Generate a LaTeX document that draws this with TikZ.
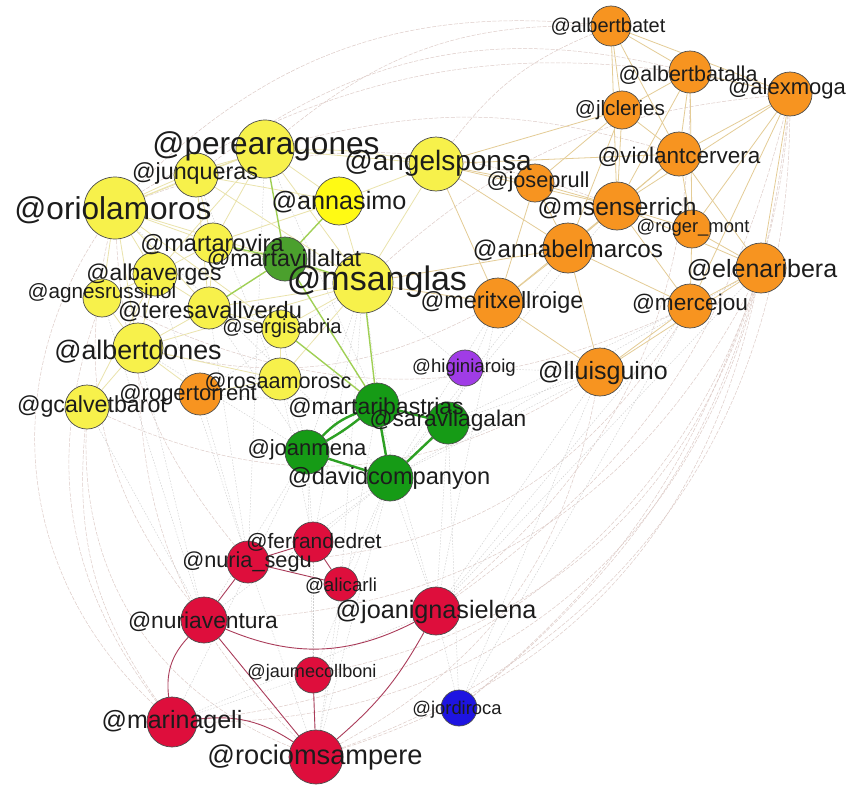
\documentclass[tikz,border=0pt]{standalone}
\usepackage{fontspec}
\setmainfont{Liberation Sans}
\pgfdeclarelayer{bgw}
\pgfdeclarelayer{edges}
\pgfsetlayers{bgw,edges,main}
\definecolor{cyel}{RGB}{247,241,75}
\definecolor{cyel2}{RGB}{255,250,20}
\definecolor{corg}{RGB}{247,148,32}
\definecolor{cgrn}{RGB}{22,155,22}
\definecolor{cgrn2}{RGB}{75,160,45}
\definecolor{cred}{RGB}{222,14,60}
\definecolor{cpur}{RGB}{160,60,230}
\definecolor{cblu}{RGB}{30,20,225}
\definecolor{labc}{RGB}{28,28,28}
\definecolor{eyel}{RGB}{234,227,172}
\definecolor{eorg}{RGB}{228,204,150}
\definecolor{elgr}{RGB}{160,208,85}
\definecolor{egrn}{RGB}{45,160,35}
\definecolor{ered}{RGB}{170,60,90}
\definecolor{efnt}{RGB}{222,204,200}
\definecolor{egry}{RGB}{208,208,208}
\newcommand\fsz[1]{\fontsize{#1}{#1}\selectfont}
\begin{document}
\begin{tikzpicture}[x=1pt,y=-1pt,
  v/.style={circle,draw=black!70,line width=0.7pt,inner sep=0pt,minimum size=#1},
  lab/.style={inner sep=0pt,text=labc},
  ye/.style={draw=eyel,line width=0.8pt},
  oe/.style={draw=eorg,line width=0.8pt},
  lge/.style={draw=elgr,line width=1.4pt},
  gte/.style={draw=egrn,line width=2.4pt},
  rede/.style={draw=ered,line width=0.9pt},
  fe/.style={draw=efnt,line width=0.5pt,dash pattern=on 4pt off 1.5pt},
  fg/.style={draw=egry,line width=0.45pt,dash pattern=on 1.5pt off 1.5pt}]
\useasboundingbox (0,0) rectangle (849,787);
\begin{pgfonlayer}{bgw}
\fill[white] (0,0) rectangle (849,787);
\end{pgfonlayer}
% ---------- vertices ----------
% yellow group
\node[v=58pt,fill=cyel] (pa) at (265,149) {};
\node[v=44pt,fill=cyel] (jq) at (196,175) {};
\node[v=62pt,fill=cyel] (oa) at (115,208) {};
\node[v=48pt,fill=cyel2] (as) at (339,201) {};
\node[v=54pt,fill=cyel] (ap) at (436,164) {};
\node[v=40pt,fill=cyel] (mr) at (213,243) {};
\node[v=44pt,fill=cgrn2] (mv) at (285,259) {};
\node[v=60pt,fill=cyel] (ms) at (363,283) {};
\node[v=44pt,fill=cyel] (ab) at (155,274) {};
\node[v=38pt,fill=cyel] (ag) at (102,298) {};
\node[v=42pt,fill=cyel] (tv) at (209,308) {};
\node[v=38pt,fill=cyel] (sg) at (281,329) {};
\node[v=50pt,fill=cyel] (ad) at (138,348) {};
\node[v=42pt,fill=cyel] (ra) at (280,379) {};
\node[v=42pt,fill=corg] (rt) at (200,394) {};
\node[v=44pt,fill=cyel] (gc) at (87,407) {};
% orange group
\node[v=40pt,fill=corg] (bt) at (611,26) {};
\node[v=42pt,fill=corg] (ba) at (690,72) {};
\node[v=44pt,fill=corg] (am) at (790,94) {};
\node[v=38pt,fill=corg] (jc) at (622,110) {};
\node[v=44pt,fill=corg] (vc) at (679,154) {};
\node[v=38pt,fill=corg] (jp) at (535,183) {};
\node[v=48pt,fill=corg] (mse) at (617,206) {};
\node[v=38pt,fill=corg] (rm) at (692,229) {};
\node[v=50pt,fill=corg] (abm) at (568,248) {};
\node[v=50pt,fill=corg] (er) at (761,268) {};
\node[v=50pt,fill=corg] (mx) at (498,303) {};
\node[v=44pt,fill=corg] (mj) at (690,306) {};
\node[v=48pt,fill=corg] (lg) at (600,372) {};
\node[v=36pt,fill=cpur] (hr) at (465,368) {};
% green group
\node[v=44pt,fill=cgrn] (mb) at (377,405) {};
\node[v=42pt,fill=cgrn] (sv) at (448,423) {};
\node[v=44pt,fill=cgrn] (jm) at (307,452) {};
\node[v=46pt,fill=cgrn] (dc) at (390,478) {};
% red group
\node[v=40pt,fill=cred] (fd) at (313,542) {};
\node[v=42pt,fill=cred] (ns) at (248,562) {};
\node[v=34pt,fill=cred] (ac) at (341,584) {};
\node[v=48pt,fill=cred] (ji) at (436,611) {};
\node[v=46pt,fill=cred] (nv) at (204,620) {};
\node[v=36pt,fill=cred] (jcb) at (313,675) {};
\node[v=36pt,fill=cblu] (jr) at (459,708) {};
\node[v=50pt,fill=cred] (mg) at (172,722) {};
\node[v=54pt,fill=cred] (rs) at (316,757) {};
% ---------- edges ----------
\begin{pgfonlayer}{edges}
% faint long-range edges
\foreach \a/\b/\c in {mg/oa/40, rs/gc/35, mg/ag/28, nv/oa/25, mg/gc/20, rs/ad/22, ns/oa/18,
  rs/am/-35, rs/er/-30, jr/am/-22, ji/ba/-25, rs/lg/-25, mg/am/-40, jr/er/-15, mg/er/-38,
  ji/am/-20, nv/er/-30, ns/mj/-28, jcb/er/-30,
  oa/bt/25, pa/bt/20, jq/ba/25, ap/bt/15, ms/am/18, oa/mse/20, pa/vc/15, oa/am/22,
  gc/lg/-28, ad/mx/-20, ag/mj/-25}
  \draw[fe] (\a) to[bend left=\c] (\b);
\foreach \a/\b in {dc/fd, dc/ns, dc/ji, dc/ac, dc/nv, dc/rs, jm/nv, jm/mg, jm/fd, mb/rs, mb/ji,
  sv/ji, sv/jr, fd/ms, ns/pa, ns/tv, ac/ms, jcb/dc, jr/ji, jr/lg, jr/mj, lg/ji, lg/dc, lg/sv,
  mj/ji, er/ji, hr/ms, hr/mb, hr/lg, mx/dc, mx/sv, ms/dc, ms/jm, ad/nv, gc/nv, ra/fd, rt/ns,
  rt/mb, rt/ms, sg/jm, tv/jm, ab/ns, ag/nv, mg/jcb, fd/jcb, ac/rs, ji/mg, ns/rs, jm/rs,
  mx/ji, abm/dc, mse/dc, er/dc, mj/sv, pa/mb, oa/dc, jq/jm, ad/jm}
  \draw[fg] (\a) -- (\b);
% yellow group
\foreach \a/\b in {pa/jq, pa/oa, pa/as, pa/mr, pa/ms, pa/ap, pa/ab, oa/jq, oa/mr, oa/ab, oa/ag,
  oa/tv, oa/ad, oa/ms, jq/mr, jq/ms, jq/as, as/ms, as/mr, as/ap, ap/ms, mr/ab, mr/tv, mr/ms,
  ab/ag, ab/tv, ab/ad, ag/ad, tv/ad, tv/sg, tv/ms, sg/ms, sg/ra, ad/gc, ad/ra, ra/ms, gc/ab,
  ad/ms, oa/sg, jq/tv, ra/rt, rt/ad}
  \draw[ye] (\a) -- (\b);
\draw[ye] (oa) to[bend left=18] (ap);
% orange group
\foreach \a/\b in {bt/ba, bt/jc, bt/vc, bt/mse, bt/am, ba/am, ba/jc, ba/vc, ba/mse, ba/rm,
  am/vc, am/er, am/mj, am/mse, am/rm, jc/vc, jc/jp, jc/mse, jc/abm, vc/mse, vc/rm, vc/abm,
  vc/er, jp/mse, jp/abm, jp/mx, mse/rm, mse/abm, mse/er, mse/mj, mse/mx, rm/mj, rm/er,
  abm/mx, abm/mj, abm/lg, er/mj, er/lg, mx/lg, mj/lg, mx/ap, ap/jp, ap/abm, ap/mse, ms/mx,
  ms/abm, ap/vc, ap/jc}
  \draw[oe] (\a) -- (\b);
% light green (martavillaltat) edges
\foreach \a/\b in {mv/pa, mv/mr, mv/ms, mv/as, mv/tv, mb/mv, mb/ms, mb/sg}
  \draw[lge] (\a) -- (\b);
% green group
\foreach \a/\b in {mb/sv, mb/dc, sv/dc, jm/dc}
  \draw[gte] (\a) -- (\b);
\draw[gte] (jm) to[bend left=12] (mb);
\draw[gte] (jm) to[bend right=4] (mb);
% red group
\foreach \a/\b in {ns/nv, nv/rs, jcb/rs, fd/ac, fd/ns, ns/ac}
  \draw[rede] (\a) -- (\b);
\draw[rede] (nv) to[bend right=25] (mg);
\draw[rede] (mg) to[bend left=20] (rs);
\draw[rede] (nv) to[bend right=25] (ji);
\draw[rede] (ji) to[bend left=10] (rs);
\end{pgfonlayer}
% ---------- labels ----------
\node[lab,font=\fsz{31.6}] (pa-l) at (266,146) {@perearagones};
\node[lab,font=\fsz{23.3}] (jq-l) at (195,173) {@junqueras};
\node[lab,font=\fsz{31.6}] (oa-l) at (113,210) {@oriolamoros};
\node[lab,font=\fsz{25.2}] (as-l) at (339,202) {@annasimo};
\node[lab,font=\fsz{28}] (ap-l) at (438,163) {@angelsponsa};
\node[lab,font=\fsz{23.6}] (mr-l) at (212,245) {@martarovira};
\node[lab,font=\fsz{23.3}] (mv-l) at (284,260) {@martavillaltat};
\node[lab,font=\fsz{34}] (ms-l) at (377,282) {@msanglas};
\node[lab,font=\fsz{22.9}] (ab-l) at (154,275) {@albaverges};
\node[lab,font=\fsz{20.7}] (ag-l) at (102,293) {@agnesrussinol};
\node[lab,font=\fsz{23.6}] (tv-l) at (210,312) {@teresavallverdu};
\node[lab,font=\fsz{20.2}] (sg-l) at (282,328) {@sergisabria};
\node[lab,font=\fsz{26.8}] (ad-l) at (138,352) {@albertdones};
\node[lab,font=\fsz{21.6}] (ra-l) at (278,382) {@rosaamorosc};
\node[lab,font=\fsz{22}] (rt-l) at (188,395) {@rogertorrent};
\node[lab,font=\fsz{23.2}] (gc-l) at (92,406) {@gcalvetbarot};
\node[lab,font=\fsz{20}] (bt-l) at (608,27) {@albertbatet};
\node[lab,font=\fsz{21.5}] (ba-l) at (688,75) {@albertbatalla};
\node[lab,font=\fsz{22}] (am-l) at (787,89) {@alexmoga};
\node[lab,font=\fsz{20.7}] (jc-l) at (620,110) {@jlcleries};
\node[lab,font=\fsz{22.5}] (vc-l) at (679,157) {@violantcervera};
\node[lab,font=\fsz{21.7}] (jp-l) at (538,182) {@joseprull};
\node[lab,font=\fsz{24.6}] (mse-l) at (617,208) {@msenserrich};
\node[lab,font=\fsz{18.4}] (rm-l) at (693,228) {@roger\_mont};
\node[lab,font=\fsz{24.2}] (abm-l) at (568,250) {@annabelmarcos};
\node[lab,font=\fsz{25}] (er-l) at (762,270) {@elenaribera};
\node[lab,font=\fsz{23.4}] (mx-l) at (502,302) {@meritxellroige};
\node[lab,font=\fsz{22.6}] (mj-l) at (690,305) {@mercejou};
\node[lab,font=\fsz{25}] (lg-l) at (603,373) {@lluisguino};
\node[lab,font=\fsz{18.6}] (hr-l) at (464,368) {@higiniaroig};
\node[lab,font=\fsz{23}] (mb-l) at (376,408) {@martaribastrias};
\node[lab,font=\fsz{22.7}] (sv-l) at (448,421) {@saravilagalan};
\node[lab,font=\fsz{22}] (jm-l) at (307,450) {@joanmena};
\node[lab,font=\fsz{23.6}] (dc-l) at (389,478) {@davidcompanyon};
\node[lab,font=\fsz{20.9}] (fd-l) at (314,542) {@ferrandedret};
\node[lab,font=\fsz{21.7}] (ns-l) at (247,562) {@nuria\_segu};
\node[lab,font=\fsz{18.7}] (ac-l) at (341,586) {@alicarli};
\node[lab,font=\fsz{25.2}] (ji-l) at (436,612) {@joanignasielena};
\node[lab,font=\fsz{22.8}] (nv-l) at (203,622) {@nuriaventura};
\node[lab,font=\fsz{18.1}] (jcb-l) at (312,673) {@jaumecollboni};
\node[lab,font=\fsz{18.4}] (jr-l) at (457,710) {@jordiroca};
\node[lab,font=\fsz{25}] (mg-l) at (172,722) {@marinageli};
\node[lab,font=\fsz{27.2}] (rs-l) at (315,757) {@rociomsampere};
\end{tikzpicture}
\end{document}
